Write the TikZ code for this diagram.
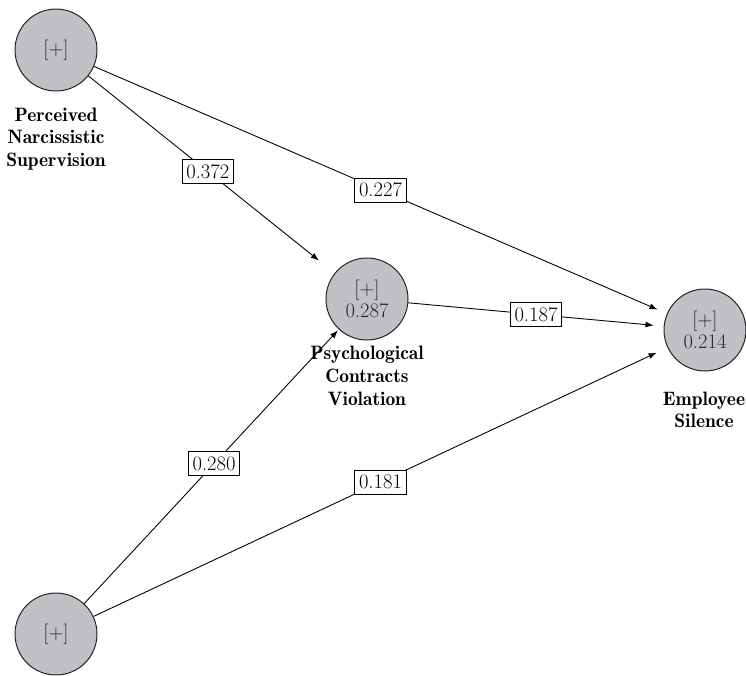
\documentclass[tikz,border=0pt]{standalone}
\usetikzlibrary{arrows.meta}
\definecolor{nodegray}{RGB}{192,193,196}
\definecolor{linegray}{RGB}{35,35,35}
\begin{document}
\begin{tikzpicture}[x=0.85pt,y=-0.85pt,
  font=\fontsize{17.5}{19}\selectfont,
  latent/.style={circle,draw=linegray,line width=0.85pt,fill=nodegray,minimum size=82*0.85pt,inner sep=0pt,align=center,text=black!85},
  lbl/.style={align=center,font=\fontsize{16.5}{19.3}\fontseries{b}\selectfont},
  path/.style={draw=black,line width=0.75pt,-{Latex[length=7pt,width=5pt]}},
  coef/.style={draw=black,line width=0.7pt,fill=white,inner xsep=3.5pt,inner ysep=4.5pt,text height=11.3pt,text depth=0pt}]
\useasboundingbox (0,0) rectangle (746,676);
\node[latent] (pns) at (56,50) {[+]};
\node[latent] (pcv) at (367,299) {[+]\\0.287};
\node[latent] (es) at (705,330) {[+]\\0.214};
\node[latent] (pc) at (56,634) {[+]};
\node[lbl] (pnsl) at (56,139) {Perceived\\Narcissistic\\Supervision};
\node[lbl] (pcvl) at (367,376) {Psychological\\Contracts\\Violation};
\node[lbl] (esl) at (704,410) {Employee\\Silence};
\draw[path,shorten >=17pt] (pns) -- node[coef,pos=0.485]{0.372} (pcv);
\draw[path,shorten >=8.5pt] (pns) -- node[coef,midway]{0.227} (es);
\draw[path,shorten >=8.5pt] (pcv) -- node[coef,midway]{0.187} (es);
\draw[path,shorten >=1pt] (pc) -- node[coef,pos=0.51]{0.280} (pcv);
\draw[path,shorten >=10pt] (pc) -- node[coef,midway]{0.181} (es);
\end{tikzpicture}
\end{document}
